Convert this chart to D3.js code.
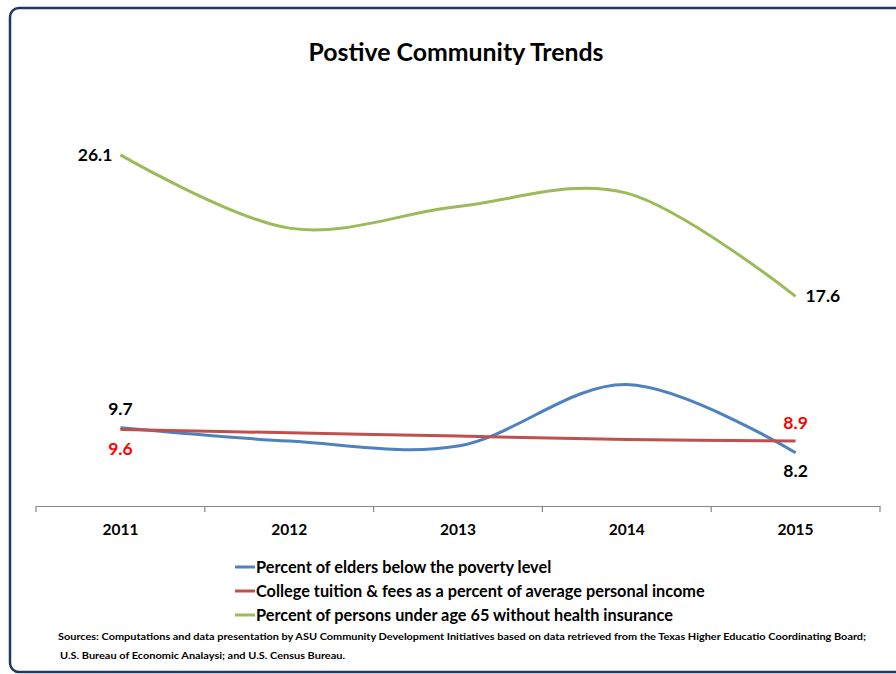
<!DOCTYPE html>
<html>
<head>
<meta charset="utf-8">
<title>Postive Community Trends</title>
<script src="https://cdn.jsdelivr.net/npm/d3@7"></script>
<style type="text/css">
    body{ margin:0; background:#fff; }
    svg text{ font-family: Lato, "Open Sans", sans-serif; font-weight:bold; }
</style>
</head>
<body>
<div id="chart"></div>
<script type="text/javascript">

var years = ['2011', '2012', '2013', '2014', '2015'];

var elders   = [9.7, 8.9, 8.6, 12.3, 8.2];
var tuition  = [9.6, 9.4, 9.2, 9.0, 8.9];
var insured  = [26.1, 21.7, 23.0, 23.8, 17.6];

var seriesNames = [
    'Percent of elders below the poverty level',
    'College tuition & fees as a percent of average personal income',
    'Percent of persons under age 65 without health insurance'
];
var seriesColors = ['#4F81BD', '#C0504D', '#9BBB59'];

var sources = [
    'Sources: Computations and data presentation by ASU Community  Development Initiatives based on data retrieved from the Texas Higher Educatio Coordinating Board;',
    'U.S. Bureau of  Economic Analaysi; and U.S. Census Bureau.'
];

var width = 896, height = 674;

var svg = d3.select('#chart').append('svg')
    .attr('width', width)
    .attr('height', height);

// frame
svg.append('rect')
    .attr('x', 10).attr('y', 8)
    .attr('width', 920).attr('height', 664)
    .attr('rx', 9).attr('ry', 9)
    .attr('fill', '#fff')
    .attr('stroke', '#1F3864')
    .attr('stroke-width', 2.5);

svg.append('text')
    .attr('x', 456).attr('y', 61)
    .attr('text-anchor', 'middle')
    .attr('font-size', 24.5)
    .attr('fill', '#000')
    .attr('textLength', 295)
    .attr('lengthAdjust', 'spacingAndGlyphs')
    .text('Postive Community Trends');

var x = d3.scaleBand().domain(years).range([36, 880]);
var y = d3.scaleLinear().domain([5, 30]).range([506, 90]);

function cx(d, i){ return x(years[i]) + x.bandwidth()/2 }

// category axis
var axis = svg.append('g')
    .attr('transform', 'translate(0,506)')
    .call(d3.axisBottom(x).tickSize(0).tickPadding(18));
axis.select('.domain').attr('stroke', '#868686').attr('stroke-width', 1.2);
axis.selectAll('.tick text')
    .attr('font-size', 15.5)
    .attr('font-family', 'Lato, sans-serif')
    .attr('font-weight', 'bold')
    .attr('fill', '#000');

svg.append('g').selectAll('line')
    .data(years.map(function(d){ return x(d) }).concat([x.range()[1]]))
    .enter().append('line')
    .attr('x1', function(d){ return d }).attr('x2', function(d){ return d })
    .attr('y1', 506).attr('y2', 512)
    .attr('stroke', '#868686').attr('stroke-width', 1.2);

var line = d3.line()
    .x(cx)
    .y(function(d){ return y(d) })
    .curve(d3.curveCardinal);

[elders, tuition, insured].forEach(function(s, k){
    svg.append('path')
        .datum(s)
        .attr('d', line)
        .attr('fill', 'none')
        .attr('stroke', seriesColors[k])
        .attr('stroke-width', 3);
});

// data labels
function label(v, i, dx, dy, anchor, color){
    svg.append('text')
        .attr('x', cx(null, i) + dx)
        .attr('y', y(v) + dy)
        .attr('text-anchor', anchor)
        .attr('font-size', 17.5)
        .attr('fill', color)
        .text(v.toFixed(1));
}
label(insured[0], 0, -8, 6, 'end', '#000');
label(insured[4], 4, 10, 6, 'start', '#000');
label(elders[0], 0, 0, -13, 'middle', '#000');
label(tuition[0], 0, 0, 26, 'middle', '#FF0000');
label(tuition[4], 4, 0, -12, 'middle', '#FF0000');
label(elders[4], 4, 0, 24, 'middle', '#000');

// legend
var legend = svg.append('g').selectAll('g')
    .data(seriesNames)
    .enter().append('g')
    .attr('transform', function(d, i){ return 'translate(235,' + (567 + i*24) + ')' });
legend.append('line')
    .attr('x1', 0).attr('x2', 20)
    .attr('stroke', function(d, i){ return seriesColors[i] })
    .attr('stroke-width', 3);
legend.append('text')
    .attr('x', 21).attr('y', 5.5)
    .attr('font-size', 16.3)
    .attr('fill', '#000')
    .text(function(d){ return d });

svg.append('g').selectAll('text')
    .data(sources)
    .enter().append('text')
    .attr('x', function(d, i){ return i ? 60 : 58 })
    .attr('y', function(d, i){ return 640 + i*19 })
    .attr('font-size', 10)
    .attr('fill', '#000')
    .attr('textLength', function(d, i){ return i ? 285 : 808 })
    .attr('lengthAdjust', 'spacingAndGlyphs')
    .text(function(d){ return d });

</script>
</body>
</html>
